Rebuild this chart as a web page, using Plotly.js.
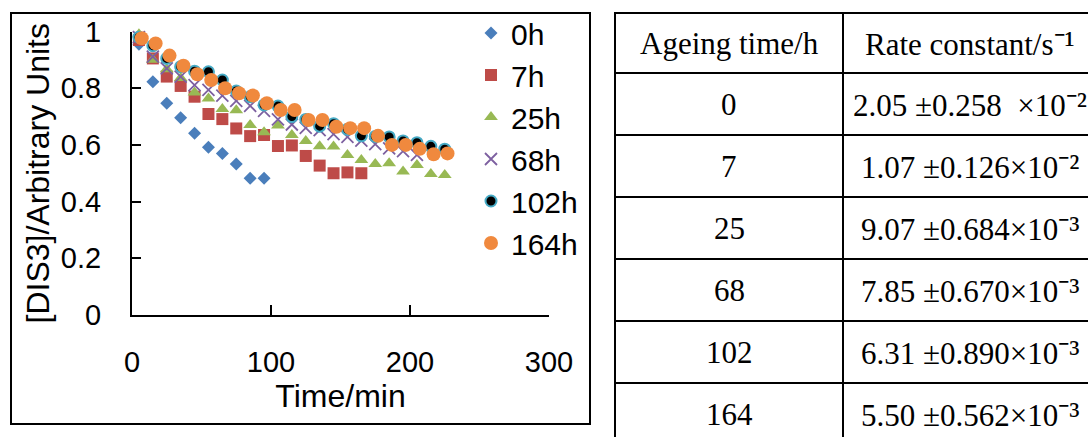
<!DOCTYPE html>
<html>
<head>
<meta charset="utf-8">
<script src="https://cdn.plot.ly/plotly-3.0.1.min.js"></script>
<style>
  html, body { margin: 0; padding: 0; overflow: hidden; background: #ffffff; }
  #chart { width: 1100px; height: 450px; }
</style>
</head>
<body>
<div id="chart"></div>
<script>
// ---- Decay of [DIS3] for samples aged for different times ----
const seriesNames = ['0h', '7h', '25h', '68h', '102h', '164h'];

const time0h = [5, 15, 25, 35, 45, 55, 65, 75, 85, 95];
const conc0h = [0.955, 0.823, 0.747, 0.696, 0.641, 0.592, 0.570, 0.533, 0.482, 0.482];

const time7h = [5, 15, 25, 35, 45, 55, 65, 75, 85, 95, 105, 115, 125, 135, 145, 155, 165];
const conc7h = [0.970, 0.905, 0.841, 0.808, 0.770, 0.709, 0.691, 0.658, 0.631, 0.635, 0.596, 0.598, 0.561, 0.527, 0.500, 0.503, 0.500];

const time25h = [5, 15, 25, 35, 45, 55, 65, 75, 85, 95, 105, 115, 125, 135, 145, 155, 165, 175, 185, 195, 205, 215, 225];
const conc25h = [0.990, 0.900, 0.867, 0.836, 0.785, 0.764, 0.727, 0.722, 0.670, 0.645, 0.668, 0.635, 0.614, 0.595, 0.594, 0.564, 0.547, 0.533, 0.535, 0.506, 0.529, 0.497, 0.494];

const time68h = [5, 15, 25, 35, 45, 55, 65, 75, 85, 95, 105, 115, 125, 135, 145, 155, 165, 175, 185, 195, 205];
const conc68h = [0.980, 0.911, 0.870, 0.841, 0.811, 0.794, 0.774, 0.755, 0.738, 0.720, 0.690, 0.672, 0.660, 0.652, 0.638, 0.628, 0.615, 0.603, 0.588, 0.578, 0.565];

const time102h = [5, 15, 25, 35, 45, 55, 65, 75, 85, 95, 105, 115, 125, 135, 145, 155, 165, 175, 185, 195, 205, 215, 225];
const conc102h = [0.980, 0.950, 0.905, 0.876, 0.860, 0.858, 0.829, 0.790, 0.770, 0.741, 0.737, 0.700, 0.690, 0.666, 0.675, 0.655, 0.632, 0.630, 0.628, 0.614, 0.608, 0.595, 0.585];

const time164h = [7, 17, 27, 37, 47, 57, 67, 77, 87, 97, 107, 117, 127, 137, 147, 157, 167, 177, 187, 197, 207, 217, 227];
const conc164h = [0.976, 0.958, 0.915, 0.879, 0.849, 0.829, 0.800, 0.782, 0.774, 0.747, 0.723, 0.723, 0.688, 0.688, 0.664, 0.659, 0.659, 0.632, 0.600, 0.600, 0.586, 0.567, 0.570];

const xTickVals = [0, 100, 200, 300];
const yTickVals = [0, 0.2, 0.4, 0.6, 0.8, 1];

// ---- Rate constants table ----
const headerTime = 'Ageing time/h';
const headerRate = 'Rate constant/s';
const headerRateExp = -1;
const ageingTime = [0, 7, 25, 68, 102, 164];
const rateMean = [2.05, 1.07, 9.07, 7.85, 6.31, 5.50];
const rateErr = [0.258, 0.126, 0.684, 0.670, 0.890, 0.562];
const rateExp = [-2, -2, -3, -3, -3, -3];

// superscript rendering of an integer exponent (slightly enlarged superscript glyphs)
const supDigits = { '0': '\u2070', '1': '\u00B9', '2': '\u00B2', '3': '\u00B3', '4': '\u2074',
                    '5': '\u2075', '6': '\u2076', '7': '\u2077', '8': '\u2078', '9': '\u2079', '-': '\u207B' };
const toSup = n => '<span style="font-size:34px">' +
  String(n).split('').map(c => supDigits[c]).join('') + '</span>';

// ---- page geometry (px) ----
const W = 1100, H = 450;
const px = v => v / W;
const py = v => (H - v) / H;

const sansFont = 'Liberation Sans, Arial, sans-serif';
const serifFont = 'Liberation Serif, Times New Roman, serif';

const colors = {
  blue: '#4A7EBB', red: '#BE4B48', green: '#98B954',
  purple: '#7D60A0', aqua: '#46AAC5', orange: '#F0893E'
};

function series(name, x, y, marker) {
  return {
    type: 'scatter', mode: 'markers', name: name, x: x, y: y,
    marker: marker, cliponaxis: false, xaxis: 'x', yaxis: 'y', hoverinfo: 'skip'
  };
}

const traces = [
  series(seriesNames[0], time0h, conc0h, { symbol: 'diamond', size: 10, color: colors.blue }),
  series(seriesNames[1], time7h, conc7h, { symbol: 'square', size: 12, color: colors.red }),
  series(seriesNames[2], time25h, conc25h, { symbol: 'triangle-up', size: 12, color: colors.green }),
  series(seriesNames[3], time68h, conc68h, { symbol: 'x-thin', size: 12, color: colors.purple,
                                             line: { color: colors.purple, width: 1.8 } }),
  series(seriesNames[4], time102h, conc102h, { symbol: 'circle', size: 11, color: '#000000',
                                               line: { color: colors.aqua, width: 2 } }),
  series(seriesNames[5], time164h, conc164h, { symbol: 'circle', size: 14, color: colors.orange })
];

// table: column widths and row heights in table units (1 unit = 1 px)
const colWidths = [228, 254];
const headerHeight = 60, rowHeight = 62;
const colEdges = [0, colWidths[0], colWidths[0] + colWidths[1]];
const rowEdges = [0, headerHeight];
for (let i = 0; i < ageingTime.length; i++) rowEdges.push(headerHeight + rowHeight * (i + 1));
const colCenters = [colWidths[0] / 2, colWidths[0] + colWidths[1] / 2];
const tableW = colEdges[2], tableH = rowEdges[rowEdges.length - 1];

// cell texts placed on the table axes (x2 / y2)
const cellFont = { family: serifFont, size: 31, color: '#000000' };
const annotations = [];
function cell(x, y, text) {
  annotations.push({
    xref: 'x2', yref: 'y2', x: x, y: y, text: text, showarrow: false,
    xanchor: 'center', yanchor: 'middle', font: cellFont
  });
}
cell(colCenters[0], headerHeight / 2, headerTime);
cell(colCenters[1], headerHeight / 2, headerRate + toSup(headerRateExp));
ageingTime.forEach((a, i) => {
  const yc = headerHeight + rowHeight * i + rowHeight / 2;
  const gap = i === 0 ? ' \u00a0' : '';
  const rate = rateMean[i].toFixed(2) + ' \u00b1' + rateErr[i].toFixed(3) + gap +
               '\u00d710' + toSup(rateExp[i]);
  cell(colCenters[0], yc, String(a));
  cell(colCenters[1], yc, rate);
});

// table rules drawn on the same axes
const ruleStyle = { color: '#000000', width: 2 };
const shapes = [];
colEdges.forEach(x => shapes.push({ type: 'line', xref: 'x2', yref: 'y2',
  x0: x, x1: x, y0: -1, y1: tableH + 1, line: ruleStyle }));
rowEdges.forEach(y => shapes.push({ type: 'line', xref: 'x2', yref: 'y2',
  x0: -1, x1: tableW + 1, y0: y, y1: y, line: ruleStyle }));

// outer border of the chart block
shapes.push({
  type: 'rect', xref: 'paper', yref: 'paper',
  x0: px(11), x1: px(590), y0: py(424), y1: py(13),
  line: { color: '#000000', width: 2 }, fillcolor: 'rgba(0,0,0,0)', layer: 'below'
});

const tableLeft = 615, tableTop = 13, pad = 2;

const layout = {
  width: W, height: H,
  margin: { l: 0, r: 0, t: 0, b: 0 },
  paper_bgcolor: '#ffffff', plot_bgcolor: 'rgba(0,0,0,0)',
  font: { family: sansFont, color: '#000000' },
  hovermode: false,
  showlegend: true,
  legend: {
    x: px(471), y: py(7), xanchor: 'left', yanchor: 'top',
    font: { family: sansFont, size: 30, color: '#000000' },
    bgcolor: 'rgba(0,0,0,0)', borderwidth: 0, tracegroupgap: 0
  },
  xaxis: {
    domain: [px(132), px(549)], range: [0, 300], anchor: 'y',
    tickvals: xTickVals, ticks: 'inside', ticklen: 10, tickwidth: 2, tickcolor: '#000000',
    showline: true, linewidth: 2, linecolor: '#000000',
    showgrid: false, zeroline: false,
    tickfont: { family: sansFont, size: 29, color: '#000000' },
    ticklabelstandoff: 20,
    title: { text: 'Time/min', font: { family: sansFont, size: 32, color: '#000000' }, standoff: 8 }
  },
  yaxis: {
    domain: [py(315), py(31.5)], range: [0, 1], anchor: 'x',
    tickvals: yTickVals, ticks: 'inside', ticklen: 9, tickwidth: 2, tickcolor: '#000000',
    showline: true, linewidth: 2, linecolor: '#000000',
    showgrid: false, zeroline: false,
    tickfont: { family: sansFont, size: 29, color: '#000000' },
    ticklabelstandoff: 23,
    title: { text: '[DIS3]/Arbitrary Units', font: { family: sansFont, size: 32, color: '#000000' }, standoff: 2 }
  },
  xaxis2: {
    domain: [px(tableLeft - pad), px(tableLeft + tableW + pad)], range: [-pad, tableW + pad],
    anchor: 'y2', visible: false
  },
  yaxis2: {
    domain: [py(tableTop + tableH + pad), py(tableTop - pad)], range: [tableH + pad, -pad],
    anchor: 'x2', visible: false
  },
  annotations: annotations,
  shapes: shapes
};

Plotly.newPlot('chart', traces, layout, { staticPlot: true, displayModeBar: false });
</script>
</body>
</html>
